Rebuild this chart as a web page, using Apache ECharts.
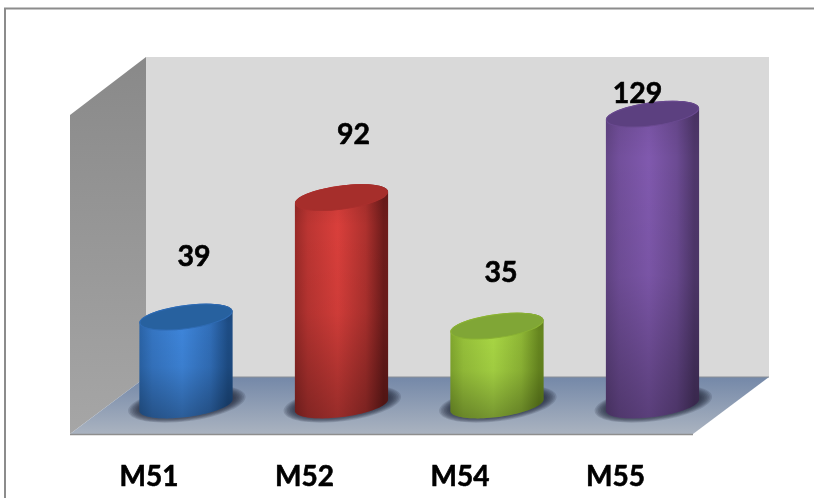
<!DOCTYPE html>
<html><head><meta charset="utf-8">
<style>html,body{margin:0;padding:0;background:#fff}#c{width:814px;height:498px}</style>
<script src="https://cdn.jsdelivr.net/npm/echarts@6/dist/echarts.min.js"></script>
</head><body><div id="c"></div>
<script>
const categories = ['M51', 'M52', 'M54', 'M55'];
const values = [39, 92, 35, 129];
const edgeColors = ['#1d4c84', '#6e1c1b', '#66861f', '#4f376b'];
const midColors = ['#3e85da', '#d93f3b', '#a8d644', '#8059ae'];
const topColors = ['#27619f', '#a62e2b', '#80a636', '#5c4080'];
const labelShift = [[8, -60], [12, -63], [4, -53], [-15, -20]];

const TILT = -7.5 * Math.PI / 180, RX = 47, RY = 12;
function ringPoint(cx, cy, t) {
  const c = Math.cos(t), s = Math.sin(t);
  return [cx + RX * c * Math.cos(TILT) - RY * s * Math.sin(TILT),
          cy + RX * c * Math.sin(TILT) + RY * s * Math.cos(TILT)];
}
function renderCylinder(params, api) {
  const i = api.value(0), v = api.value(1);
  const top = api.coord([i, v]), base = api.coord([i, 0]);
  const cx = top[0], N = 48, body = [];
  for (let k = 0; k <= N; k++) body.push(ringPoint(cx, top[1], Math.PI + k / N * Math.PI));
  for (let k = 0; k <= N; k++) body.push(ringPoint(cx, base[1], k / N * Math.PI));
  const mix = (f) => echarts.color.lerp(f, [edgeColors[i], midColors[i]]);
  const grad = new echarts.graphic.LinearGradient(0, 0, 1, 0, [
    {offset: 0, color: mix(0.4)}, {offset: 0.14, color: mix(0.72)},
    {offset: 0.46, color: midColors[i]}, {offset: 0.76, color: mix(0.6)},
    {offset: 0.95, color: edgeColors[i]}, {offset: 1, color: edgeColors[i]}]);
  const fade = new echarts.graphic.LinearGradient(0, 0, 0, 1, [
    {offset: 0, color: 'rgba(0,0,0,0.10)'}, {offset: 0.18, color: 'rgba(0,0,0,0)'},
    {offset: 0.55, color: 'rgba(0,0,0,0.05)'}, {offset: 1, color: 'rgba(0,0,0,0.3)'}]);
  const rings = [];
  for (let k = 7; k >= 0; k--) {
    rings.push({type: 'ellipse', shape: {cx: cx + 1, cy: base[1] - 1, rx: RX + 1 + k * 1.6, ry: RY + k * 0.75},
      rotation: -TILT, originX: cx, originY: base[1], style: {fill: 'rgba(30,40,58,0.16)'}});
  }
  return {type: 'group', children: rings.concat([
    {type: 'polygon', shape: {points: body}, style: {fill: grad}},
    {type: 'polygon', shape: {points: body}, style: {fill: fade}},
    {type: 'ellipse', shape: {cx: cx, cy: top[1], rx: RX - 0.5, ry: RY - 0.5}, rotation: -TILT, originX: cx, originY: top[1],
     style: {fill: topColors[i], stroke: mix(0.55), lineWidth: 1}},
    {type: 'text', x: cx + labelShift[i][0], y: top[1] + labelShift[i][1],
     style: {text: String(v), fill: '#000', stroke: '#000', lineWidth: 0.6, font: '700 28.5px Lato', align: 'center', verticalAlign: 'middle'}}
  ])};
}
const chart = echarts.init(document.getElementById('c'), null, {renderer: 'canvas'});
chart.setOption({
  animation: false,
  backgroundColor: '#fff',
  grid: {left: 108.25, width: 622, top: 89.3, height: 315.7},
  xAxis: {type: 'category', data: categories, axisLine: {show: false}, axisTick: {show: false},
    axisLabel: {margin: 58, padding: [0, 74, 0, 0], color: '#000', fontFamily: 'Lato', fontWeight: 700, fontSize: 28, textBorderColor: '#000', textBorderWidth: 0.6}},
  yAxis: {type: 'value', min: 0, max: 140, show: false},
  graphic: [
    {type: 'polyline', shape: {points: [[5, 498], [5, 8.5], [814, 8.5]]}, style: {fill: 'none', stroke: '#8c8c8c', lineWidth: 2}},
    {type: 'rect', shape: {x: 146, y: 57, width: 623, height: 320}, style: {fill: '#d9d9d9'}},
    {type: 'polygon', shape: {points: [[70, 115], [146, 57], [146, 377], [70, 434]]},
     style: {fill: new echarts.graphic.LinearGradient(0, 0, 0, 1, [{offset: 0, color: '#898989'}, {offset: 1, color: '#a6a6a6'}])}},
    {type: 'polygon', shape: {points: [[70, 434], [146, 377], [769, 377], [693, 434]]},
     style: {fill: new echarts.graphic.LinearGradient(0, 0, 0, 1, [{offset: 0, color: '#7488a8'}, {offset: 1, color: '#aab3c0'}])}},
    {type: 'line', shape: {x1: 146, y1: 377, x2: 769, y2: 377}, style: {stroke: '#8a8f96', lineWidth: 1}},
    {type: 'line', shape: {x1: 70, y1: 434.5, x2: 693, y2: 434.5}, style: {stroke: '#8e8e8e', lineWidth: 1.5}}
  ],
  series: [{type: 'custom', coordinateSystem: 'cartesian2d', clip: false,
    data: values.map((v, i) => [i, v]), encode: {x: 0, y: 1}, renderItem: renderCylinder}]
});
</script></body></html>
